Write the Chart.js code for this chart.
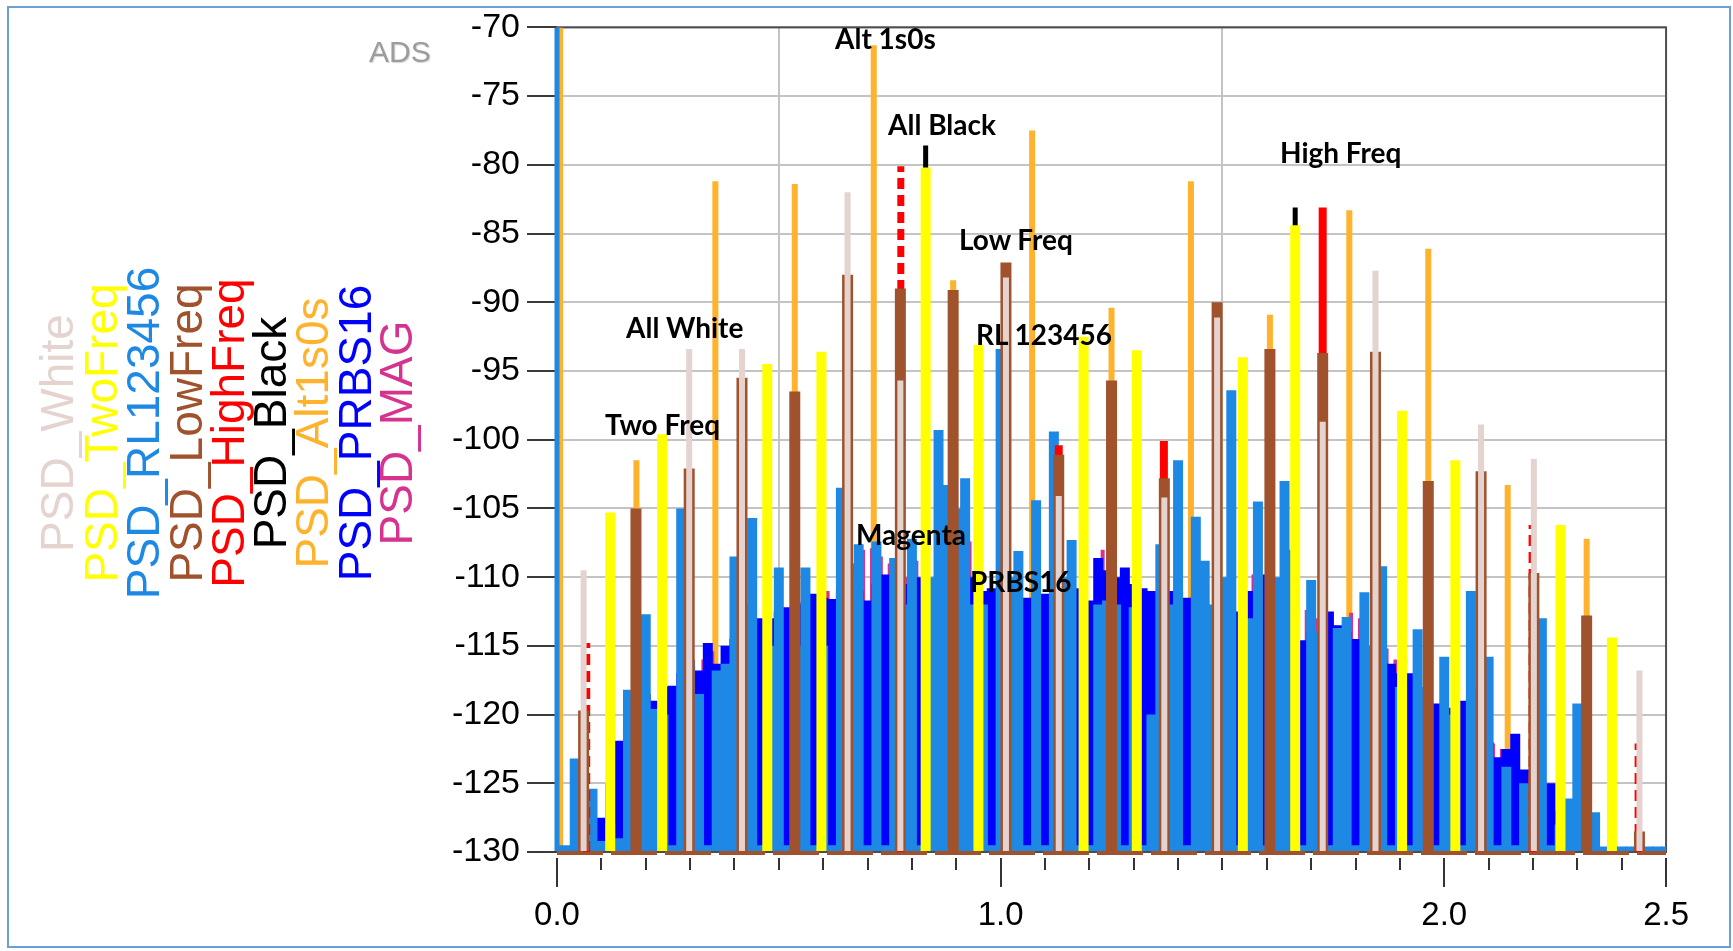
<!DOCTYPE html>
<html>
<head>
<meta charset="utf-8">
<script src="https://cdn.jsdelivr.net/npm/chart.js@4.4.1/dist/chart.umd.min.js"></script>
<style>
html,body{margin:0;padding:0;background:#fff;width:1733px;height:951px;overflow:hidden;}
#wrap{position:relative;width:1733px;height:951px;}
#c{position:absolute;left:0;top:0;}
#frame{position:absolute;left:7px;top:6px;width:1724px;height:942px;border:2px solid #6b9fd6;box-sizing:border-box;pointer-events:none;}
.leg{position:absolute;top:433px;font-family:"Liberation Sans",Arial,sans-serif;font-size:46px;line-height:1;white-space:nowrap;transform:translate(-50%,-50%) rotate(-90deg);}
.ann{position:absolute;font-family:Lato,"Open Sans",sans-serif;font-weight:700;font-size:28px;line-height:1;white-space:nowrap;color:#000;}
#ads{position:absolute;left:369px;top:37px;font-family:"Liberation Sans",Arial,sans-serif;font-size:30px;line-height:1;color:#9c9c9c;text-shadow:1px 1px 1px #d4d4d4;}
</style>
</head>
<body>
<div id="wrap">
<canvas id="c" width="1733" height="951"></canvas>
<div id="frame"></div>
<div id="ads">ADS</div>
</div>
<script>
// ---------------- DATA ----------------
const legendLabels = ["PSD_White","PSD_TwoFreq","PSD_RL123456","PSD_LowFreq","PSD_HighFreq","PSD_Black","PSD_Alt1s0s","PSD_PRBS16","PSD_MAG"];
const annotationTexts = ["Alt 1s0s","All Black","High Freq","Low Freq","All White","RL 123456","Two Freq","Magenta","PRBS16"];

const xTickValues = [0.0, 1.0, 2.0, 2.5];
const yTickValues = [-130,-125,-120,-115,-110,-105,-100,-95,-90,-85,-80,-75,-70];

// Alt1s0s (orange) spectral lines
const alt1s0sX = [0.007,0.179,0.357,0.536,0.714,0.893,1.071,1.250,1.429,1.607,1.786,1.964,2.143,2.321];
const alt1s0sY = [-70.0,-101.5,-81.2,-81.4,-71.3,-88.4,-77.5,-90.4,-81.2,-90.9,-83.3,-86.1,-103.3,-107.2];

// TwoFreq (yellow)
const twoFreqX = [0.120,0.237,0.474,0.596,0.831,0.950,1.187,1.307,1.546,1.664,1.905,2.025,2.262,2.378];
const twoFreqY = [-105.3,-99.6,-94.5,-93.6,-80.2,-93.1,-92.5,-93.5,-94.0,-84.4,-97.9,-101.5,-106.2,-114.4];

// White (light pink)
const whiteX = [0.060,0.298,0.417,0.655,0.774,1.012,1.131,1.369,1.488,1.726,1.845,2.083,2.202,2.440];
const whiteY = [-109.5,-93.4,-93.4,-82.0,-95.7,-88.2,-104.1,-104.2,-91.1,-98.7,-87.7,-98.9,-101.4,-116.8];

// LowFreq (brown)
const lowFreqX = [0.060,0.178,0.298,0.417,0.536,0.655,0.774,0.893,1.012,1.131,1.250,1.369,1.488,1.607,1.726,1.845,1.964,2.083,2.202,2.321,2.440];
const lowFreqY = [-119.7,-105.0,-102.1,-95.5,-96.5,-88.0,-89.0,-89.1,-87.1,-101.1,-95.7,-102.8,-90.0,-93.4,-93.7,-93.6,-103.0,-102.3,-109.7,-112.8,-128.5];
const lowFreqFloorX = [0.0, 2.5];
const lowFreqFloorY = [-130.0, -130.0];

// HighFreq (red)
const highFreqSolidX = [1.131,1.368,1.726];
const highFreqSolidY = [-100.4,-100.1,-83.1];
const highFreqDashedX = [0.067,0.775,2.198,2.437];
const highFreqDashedY = [-114.8,-80.1,-106.2,-122.1];

// Black
const blackX = [0.831,1.664];
const blackY = [-78.6,-83.1];

// Dense spectra on a 0.02 frequency grid
const denseFreq = [
 0.00,0.02,0.04,0.06,0.08,0.10,0.12,0.14,0.16,0.18,
 0.20,0.22,0.24,0.26,0.28,0.30,0.32,0.34,0.36,0.38,
 0.40,0.42,0.44,0.46,0.48,0.50,0.52,0.54,0.56,0.58,
 0.60,0.62,0.64,0.66,0.68,0.70,0.72,0.74,0.76,0.78,
 0.80,0.82,0.84,0.86,0.88,0.90,0.92,0.94,0.96,0.98,
 1.00,1.02,1.04,1.06,1.08,1.10,1.12,1.14,1.16,1.18,
 1.20,1.22,1.24,1.26,1.28,1.30,1.32,1.34,1.36,1.38,
 1.40,1.42,1.44,1.46,1.48,1.50,1.52,1.54,1.56,1.58,
 1.60,1.62,1.64,1.66,1.68,1.70,1.72,1.74,1.76,1.78,
 1.80,1.82,1.84,1.86,1.88,1.90,1.92,1.94,1.96,1.98,
 2.00,2.02,2.04,2.06,2.08,2.10,2.12,2.14,2.16,2.18,
 2.20,2.22,2.24,2.26,2.28,2.30,2.32,2.34,2.36,2.38,
 2.40,2.42,2.44,2.46,2.48,2.50];

// RL123456 (light blue)
const rlY = [
 -129.5,-129.5,-123.2,-129.5,-125.4,-129.2,-128.0,-129.0,-118.2,-118.0,
 -112.7,-119.6,-120.0,-129.5,-105.0,-116.0,-118.5,-129.5,-116.8,-116.3,
 -108.5,-112.0,-105.7,-129.5,-115.0,-109.3,-129.5,-115.0,-109.3,-129.5,
 -115.0,-129.5,-103.5,-110.0,-107.6,-129.5,-107.4,-129.5,-108.6,-112.0,
 -107.2,-129.5,-110.0,-99.3,-103.3,-105.0,-102.8,-112.0,-112.0,-129.5,
 -93.4,-110.0,-108.1,-129.5,-104.4,-129.5,-99.4,-110.0,-107.3,-129.5,
 -129.5,-112.0,-111.7,-112.0,-129.5,-112.2,-129.5,-120.0,-107.6,-112.0,
 -101.5,-129.5,-105.6,-108.8,-112.0,-110.0,-96.4,-129.5,-113.0,-104.5,
 -129.5,-110.0,-103.0,-108.0,-129.5,-110.2,-114.0,-129.5,-113.7,-112.9,
 -129.5,-111.1,-115.0,-109.2,-129.5,-118.0,-129.5,-113.8,-118.0,-129.5,
 -115.8,-120.0,-129.5,-111.0,-118.0,-115.8,-129.5,-123.8,-129.5,-125.0,
 -127.0,-113.0,-129.5,-128.0,-126.1,-119.2,-127.0,-127.1,-129.6,-129.6,
 -129.6,-129.6,-129.6,-129.6,-129.6,-129.6];
const rlDcX = [0.0];
const rlDcY = [-70.0];

// PRBS16 (dark blue)
const prbsY = [
 -130.0,-130.0,-130.0,-130.0,-129.5,-127.5,-125.0,-121.9,-121.0,-119.0,
 -118.5,-119.0,-118.0,-117.9,-117.0,-116.5,-116.8,-114.8,-116.3,-115.0,
 -114.5,-114.0,-113.5,-113.0,-113.0,-112.5,-112.2,-112.0,-111.8,-111.2,
 -111.5,-111.6,-111.0,-110.5,-111.0,-111.7,-110.5,-109.8,-110.0,-110.5,
 -110.5,-110.0,-110.5,-111.0,-111.5,-111.0,-111.5,-110.0,-111.0,-110.8,
 -111.0,-111.5,-112.0,-111.5,-112.0,-111.2,-111.5,-112.0,-111.5,-110.8,
 -111.7,-108.6,-109.5,-110.0,-109.3,-110.5,-110.8,-111.0,-111.0,-111.0,
 -111.0,-111.5,-112.0,-112.0,-112.5,-112.0,-112.5,-112.5,-111.0,-110.5,
 -109.8,-111.0,-112.0,-113.0,-114.6,-114.0,-114.0,-112.5,-113.5,-114.0,
 -114.5,-115.0,-116.0,-116.0,-116.3,-117.0,-117.0,-118.0,-118.5,-119.2,
 -120.0,-119.5,-119.0,-120.0,-121.0,-122.0,-123.1,-122.5,-121.4,-124.0,
 -124.5,-125.5,-125.0,-127.0,-128.0,-128.5,-129.0,-130.0,-130.0,-130.0,
 -130.0,-130.0,-130.0,-130.0,-130.0,-130.0];

// MAG (magenta)
const magX = [0.33,0.35,0.37,0.39,0.61,0.67,0.69,0.71,0.73,0.75,0.77,0.79,0.81,0.83,0.93,1.23,1.35,1.45,1.49,1.55,1.57,1.59,1.69,1.71,1.79,1.81,1.87,1.89,1.97,2.11,2.13,2.21];
const magY = [-116.0,-115.4,-116.5,-117.0,-111.0,-109.0,-108.0,-107.9,-108.5,-109.0,-108.6,-110.0,-108.8,-108.5,-107.4,-108.0,-111.5,-112.0,-111.0,-110.0,-109.8,-111.0,-112.4,-113.0,-112.6,-113.0,-115.2,-116.0,-117.5,-122.1,-122.5,-124.0];

// ---------------- STYLE / LAYOUT ----------------
const COLORS = {
  white:'#e4d3cf', two:'#ffff00', rl:'#1e88e5', low:'#a0522d', high:'#ff0000',
  black:'#000000', alt:'#ffb22b', prbs:'#0000ff', mag:'#d6338f'
};
const legendColors = [COLORS.white,COLORS.two,COLORS.rl,COLORS.low,COLORS.high,COLORS.black,COLORS.alt,COLORS.prbs,COLORS.mag];
const legendCenters = [57,100.5,143,186,228,270,312,355,396];
const annotationPos = [[835,24],[888,110],[1280,138],[959,225],[626,313],[976,320],[605,410],[856,520],[970,567]];

const wrap = document.getElementById('wrap');
legendLabels.forEach((t,i)=>{
  const d=document.createElement('div'); d.className='leg'; d.textContent=t;
  d.style.left=legendCenters[i]+'px'; d.style.color=legendColors[i]; wrap.appendChild(d);
});
annotationTexts.forEach((t,i)=>{
  const d=document.createElement('div'); d.className='ann'; d.textContent=t;
  d.style.left=annotationPos[i][0]+'px'; d.style.top=annotationPos[i][1]+'px'; wrap.appendChild(d);
});

const Y_MIN=-130, Y_MAX=-70;
const toPts=(xs,ys)=>xs.map((x,i)=>({x,y:ys[i]}));
const vSegs=(xs,ys)=>xs.flatMap((x,i)=>[{x,y:Y_MIN},{x,y:ys[i]},{x,y:null}]);
const barDs=(label,pts,color,thick,order,extra)=>Object.assign({type:'bar',label,data:pts,backgroundColor:color,
  barThickness:thick,grouped:false,base:Y_MIN,order,borderWidth:0,inflateAmount:0},extra||{});

const datasets=[
  barDs('PSD_TwoFreq',toPts(twoFreqX,twoFreqY),COLORS.two,10,0),
  barDs('PSD_Black',toPts(blackX,blackY),COLORS.black,5,1),
  barDs('PSD_White',toPts(whiteX,whiteY),COLORS.white,6,2),
  barDs('PSD_LowFreq',toPts(lowFreqX,lowFreqY),COLORS.low,11,3),
  barDs('PSD_HighFreq',toPts(highFreqSolidX,highFreqSolidY),COLORS.high,8,4),
  {type:'line',label:'PSD_HighFreq dashed',data:vSegs(highFreqDashedX,highFreqDashedY),borderColor:COLORS.high,
   borderWidth:7,borderDash:[11,6],pointRadius:0,spanGaps:false,borderCapStyle:'butt',tension:0,order:5},
  barDs('PSD_RL123456 DC',toPts(rlDcX,rlDcY),COLORS.rl,5,6,{clip:{left:4,top:0,right:0,bottom:0}}),
  barDs('PSD_RL123456',toPts(denseFreq,rlY),COLORS.rl,10,7),
  barDs('PSD_PRBS16',toPts(denseFreq,prbsY),COLORS.prbs,10,8),
  barDs('PSD_MAG',toPts(magX,magY),COLORS.mag,4,9),
  barDs('PSD_Alt1s0s',toPts(alt1s0sX,alt1s0sY),COLORS.alt,6,10),
  {type:'line',label:'PSD_LowFreq floor',data:toPts(lowFreqFloorX,lowFreqFloorY),borderColor:COLORS.low,
   borderWidth:6,borderDash:[46,8],pointRadius:0,order:11,clip:{left:0,top:0,right:0,bottom:8}}
];

const framePlugin={id:'frame',beforeDatasetsDraw(chart){
  const {ctx,chartArea:a}=chart; ctx.save(); ctx.strokeStyle='#4d4d4d'; ctx.lineWidth=2;
  ctx.strokeRect(a.left,a.top,a.right-a.left,a.bottom-a.top); ctx.restore();
}};
const minorTickPlugin={id:'minorTicks',afterDraw(chart){
  const {ctx,chartArea:a}=chart; const sx=chart.scales.x;
  ctx.save(); ctx.strokeStyle='#333'; ctx.lineWidth=2;
  for(let i=0;i<=25;i++){
    const v=i/10, major=(i%10===0)||i===25; const px=Math.round(sx.getPixelForValue(v));
    ctx.beginPath(); ctx.moveTo(px,a.bottom+6); ctx.lineTo(px,a.bottom+(major?35:18)); ctx.stroke();
  }
  ctx.restore();
}};

const FONT='"Liberation Sans", Arial, sans-serif';
new Chart(document.getElementById('c'),{
  type:'bar',
  data:{datasets},
  options:{
    responsive:false, animation:false, devicePixelRatio:1,
    layout:{padding:{top:24,right:51,bottom:0,left:0}},
    plugins:{legend:{display:false},tooltip:{enabled:false}},
    scales:{
      x:{type:'linear',min:0,max:2.5,offset:false,
        afterBuildTicks:s=>{s.ticks=xTickValues.map(v=>({value:v}));},
        ticks:{autoSkip:false,maxRotation:0,padding:44,color:'#000',font:{family:FONT,size:33},callback:v=>Number(v).toFixed(1)},
        grid:{drawTicks:false,lineWidth:2,color:c=>(c.tick&&(c.tick.value===1||c.tick.value===2))?'#c4c4c4':'rgba(0,0,0,0)'},
        border:{display:false},
        afterFit:s=>{s.height=99;}
      },
      y:{type:'linear',min:Y_MIN,max:Y_MAX,
        afterBuildTicks:s=>{s.ticks=yTickValues.map(v=>({value:v}));},
        ticks:{autoSkip:false,padding:7,color:'#000',font:{family:FONT,size:34},callback:v=>String(v)},
        grid:{color:'#c4c4c4',lineWidth:2,drawTicks:true,tickLength:30,tickColor:'#3a3a3a',tickWidth:2},
        border:{display:false},
        afterFit:s=>{s.width=557;}
      }
    }
  },
  plugins:[framePlugin,minorTickPlugin]
});
</script>
</body>
</html>
